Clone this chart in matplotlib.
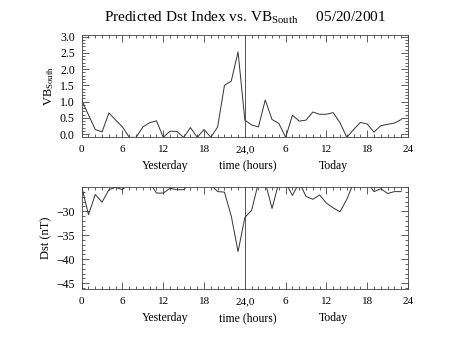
import matplotlib
matplotlib.use('Agg')
import matplotlib.pyplot as plt
import numpy as np
from matplotlib.ticker import MultipleLocator

# hourly values, hour 0 = start of yesterday, hour 24 = start of today
hours = list(range(48))
vb_south = [1.05, 0.59, 0.14, 0.07, 0.65, 0.43, 0.22, -0.1, -0.1, 0.22,
            0.35, 0.41, -0.1, 0.09, 0.08, -0.1, 0.20, -0.1, 0.14, -0.1,
            0.22, 1.50, 1.63, 2.53, 0.43, 0.28, 0.22, 1.05, 0.45, 0.33,
            -0.1, 0.58, 0.40, 0.43, 0.68, 0.61, 0.61, 0.66, 0.35, -0.1,
            0.14, 0.36, 0.31, 0.06, 0.26, 0.30, 0.34, 0.45]
dst = [-24.9, -30.7, -26.5, -28.1, -25.5, -25.0, -25.5, -24.0, -24.0, -24.0,
       -24.0, -26.2, -26.2, -25.2, -25.5, -25.5, -24.0, -24.0, -24.0, -24.5,
       -25.9, -26.0, -31.0, -38.4, -31.3, -29.8, -24.0, -24.0, -29.4, -24.0,
       -24.0, -26.7, -24.0, -26.9, -27.5, -26.6, -28.3, -29.3, -30.1, -27.5,
       -24.0, -24.0, -24.0, -25.9, -25.3, -26.3, -25.9, -25.9]
xtick_pos = [0, 6, 12, 18, 24, 30, 36, 42, 48]
xtick_lab = ['0', '6', '12', '18', '24,0', '6', '12', '18', '24']
day_labels = ['Yesterday', 'time (hours)', 'Today']
day_pos = [12.3, 24.5, 37]

plt.rcParams['font.family'] = ['Liberation Serif', 'DejaVu Serif']
plt.rcParams['mathtext.fontset'] = 'custom'
plt.rcParams['mathtext.rm'] = 'Liberation Serif'
plt.rcParams['mathtext.it'] = 'Liberation Serif'

fig = plt.figure(figsize=(4.54, 3.41), dpi=100)
ax1 = fig.add_axes([81.7 / 454, 1 - 136.7 / 341, (408 - 81.7) / 454, (136.7 - 35) / 341])
ax2 = fig.add_axes([81.7 / 454, 1 - 289 / 341, (408 - 81.7) / 454, (289 - 187.3) / 341])

for ax in (ax1, ax2):
    ax.set_xlim(0, 48)
    ax.set_xticks(xtick_pos)
    ax.set_xticklabels(xtick_lab)
    ax.xaxis.set_minor_locator(MultipleLocator(1))
    ax.tick_params(which='both', direction='in', top=True, right=True,
                   labelsize=8.5, width=0.6, color='#444444', pad=5)
    ax.tick_params(axis='x', which='major', labelsize=8, pad=6)
    ax.tick_params(which='major', length=5)
    ax.tick_params(which='minor', length=2.5)
    for s in ax.spines.values():
        s.set_linewidth(0.6)
        s.set_color('#444444')
    ax.axvline(24, color='#555555', lw=0.7)
    for lab, p in zip(day_labels, day_pos):
        ax.text(p, -0.285, lab, transform=ax.get_xaxis_transform(),
                ha='center', va='center', fontsize=8.5)

ax1.plot(hours, vb_south, color='#333333', lw=0.7, clip_on=True)
ax1.set_ylim(-0.08, 3.05)
ax1.yaxis.set_minor_locator(MultipleLocator(0.1))
ax1.set_yticks([0, 0.5, 1, 1.5, 2, 2.5, 3])
ax1.set_yticklabels(['0.0', '0.5', '1.0', '1.5', '2.0', '2.5', '3.0'])
ax1.set_ylabel(r'VB$_{\mathrm{South}}$', fontsize=9, labelpad=3)

ax2.plot(hours, dst, color='#333333', lw=0.7, clip_on=True)
ax2.set_ylim(-46.2, -25)
ax2.set_yticks([-30, -35, -40, -45])
ax2.yaxis.set_minor_locator(MultipleLocator(1))
ax2.set_ylabel('Dst (nT)', fontsize=9, labelpad=3)

fig.text(245 / 454, 1 - 18 / 341,
         r'Predicted Dst Index vs. VB$_{\mathrm{South}}$     05/20/2001',
         ha='center', va='center', fontsize=11)

fig.savefig('out.png', dpi=100)
